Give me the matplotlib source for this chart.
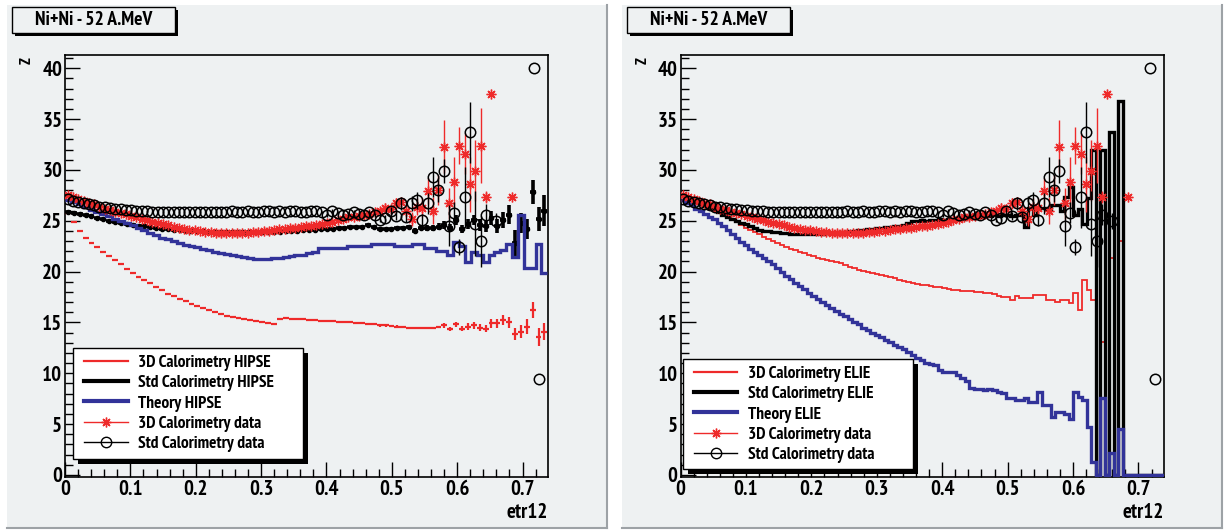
import numpy as np
import matplotlib
matplotlib.use("Agg")
import matplotlib.pyplot as plt
from matplotlib import font_manager
from matplotlib.font_manager import FontProperties
from matplotlib.lines import Line2D
from matplotlib.patches import Rectangle

# ROOT draws a narrow-looking Helvetica bold; take a narrow bold face if one is installed
files = [f.fname for f in font_manager.fontManager.ttflist]
narrow_bold = [f for f in files if "narrow" in f.lower() and "bold" in f.lower()
               and "italic" not in f.lower()]
if narrow_bold:
    FP = FontProperties(fname=narrow_bold[0])
    FS_TICK, FS_TITLE, FS_LEG, FS_Z, LEG_SP = 15, 14, 12.5, 11, 0.24
else:
    FP = FontProperties(family="Liberation Sans", weight="bold")
    FS_TICK, FS_TITLE, FS_LEG, FS_Z, LEG_SP = 13, 11.5, 10.5, 10, 0.45


def font(size):
    fp = FP.copy()
    fp.set_size(size)
    return fp


# ---------------- data (Z vs etr12) ----------------
W_HIPSE = 0.009   # bin width, HIPSE histograms
W_ELIE = 0.0069   # bin width, ELIE histograms
W_DATA = 0.0081   # bin width, measured points

hipse_3d = [25.8, 24.9, 24.0, 23.3, 22.8, 22.4, 21.9, 21.5, 21.1, 20.7,
            20.3, 19.9, 19.5, 19.2, 18.9, 18.5, 18.2, 17.8, 17.6, 17.3,
            17.1, 16.8, 16.6, 16.4, 16.2, 16.0, 15.8, 15.65, 15.5, 15.4,
            15.3, 15.2, 15.1, 15.0, 14.9, 14.85, 15.3, 15.4, 15.35, 15.3,
            15.3, 15.25, 15.2, 15.15, 15.1, 15.1, 15.05, 15.0, 15.0, 14.95,
            14.9, 14.85, 14.8, 14.7, 14.7, 14.65, 14.6, 14.55, 14.5, 14.5,
            14.45, 14.45, 14.5, 14.55,
            14.7, 14.4, 14.8, 14.4, 14.6, 14.7, 14.5, 14.4, 14.9, 14.9,
            15.2, 15.0, 13.9, 14.1, 14.6, 16.2, 13.6, 14.1]
hipse_3d_err = [0.05, 0.05, 0.05, 0.05, 0.05, 0.05, 0.05, 0.05, 0.05, 0.05,
                0.05, 0.05, 0.05, 0.05, 0.05, 0.05, 0.05, 0.05, 0.05, 0.05,
                0.05, 0.05, 0.05, 0.05, 0.05, 0.05, 0.05, 0.05, 0.05, 0.05,
                0.05, 0.05, 0.05, 0.05, 0.05, 0.05, 0.05, 0.05, 0.05, 0.05,
                0.05, 0.05, 0.05, 0.05, 0.05, 0.05, 0.05, 0.05, 0.05, 0.05,
                0.1, 0.1, 0.1, 0.1, 0.1, 0.1, 0.1, 0.1, 0.1, 0.1,
                0.1, 0.1, 0.1, 0.1,
                0.2, 0.2, 0.25, 0.25, 0.3, 0.3, 0.35, 0.35, 0.4, 0.4,
                0.5, 0.5, 0.6, 0.6, 0.7, 0.8, 0.9, 0.8]
hipse_std = [25.9, 25.8, 25.7, 25.6, 25.45, 25.3, 25.2, 25.0, 24.9, 24.8,
             24.7, 24.6, 24.5, 24.45, 24.35, 24.3, 24.2, 24.15, 24.1, 24.05,
             24.0, 24.0, 23.95, 23.95, 23.9, 23.9, 23.9, 23.9, 23.9, 23.9,
             23.9, 23.9, 23.9, 23.9, 23.9, 23.9, 23.9, 23.95, 24.0, 24.0,
             24.05, 24.1, 24.1, 24.15, 24.2, 24.2, 24.3, 24.3, 24.35, 24.4,
             24.4, 24.6, 24.4, 24.2, 24.2, 24.2, 24.25, 24.3, 24.4, 24.0,
             24.3, 24.3, 24.3, 24.4,
             24.6, 24.3, 25.1, 24.2, 24.7, 25.1, 24.6, 24.5, 25.3, 24.5,
             25.1, 25.6, 22.8, 24.8, 24.2, 27.8, 25.2, 26.0]
hipse_std_err = [0.05, 0.05, 0.05, 0.05, 0.05, 0.05, 0.05, 0.05, 0.05, 0.05,
                 0.05, 0.05, 0.05, 0.05, 0.05, 0.05, 0.05, 0.05, 0.05, 0.05,
                 0.05, 0.05, 0.05, 0.05, 0.05, 0.05, 0.05, 0.05, 0.05, 0.05,
                 0.05, 0.05, 0.05, 0.05, 0.05, 0.05, 0.05, 0.05, 0.05, 0.05,
                 0.05, 0.05, 0.05, 0.05, 0.05, 0.05, 0.05, 0.05, 0.05, 0.05,
                 0.1, 0.1, 0.1, 0.1, 0.1, 0.1, 0.15, 0.2, 0.2, 0.25,
                 0.25, 0.3, 0.3, 0.35,
                 0.4, 0.4, 0.5, 0.4, 0.5, 0.5, 0.6, 0.6, 0.7, 0.7,
                 0.8, 0.9, 1.3, 1.0, 1.0, 1.2, 1.2, 1.5]
hipse_theory = [27.0, 26.8, 26.6, 26.4, 26.1, 25.9, 25.7, 25.45, 25.2, 25.0,
                24.8, 24.55, 24.3, 24.1, 23.8, 23.6, 23.35, 23.2, 23.0, 22.8,
                22.65, 22.5, 22.4, 22.25, 22.1, 21.95, 21.8, 21.7, 21.6, 21.5,
                21.4, 21.3, 21.2, 21.2, 21.25, 21.3, 21.35, 21.4, 21.5, 21.6,
                21.6, 21.8, 21.9, 22.3, 22.3, 22.3, 22.3, 22.3, 22.5, 22.5,
                22.5, 22.5, 22.7, 22.7, 22.7, 22.7, 22.5, 22.5, 22.5, 22.7,
                22.7, 22.3, 22.3, 22.0, 22.0, 21.6, 22.9, 22.5, 20.9, 21.9,
                21.6, 20.9, 21.6, 21.9, 22.1, 22.7, 21.4, 25.6, 20.4, 20.4,
                22.7, 19.9]

elie_3d = [26.9, 26.8, 26.7, 26.6, 26.5, 26.35, 26.2, 26.0, 25.8, 25.55,
           25.3, 25.1, 24.85, 24.6, 24.3, 24.1, 23.85, 23.65, 23.45, 23.25,
           23.0, 22.8, 22.6, 22.4, 22.25, 22.1, 21.95, 21.8, 21.65, 21.5,
           21.35, 21.2, 21.1, 21.0, 20.9, 20.8, 20.6, 20.5, 20.35, 20.2,
           20.1, 20.0, 19.9, 19.8, 19.7, 19.6, 19.5, 19.4, 19.2, 19.1,
           19.0, 18.9, 18.8, 18.7, 18.7, 18.6, 18.5, 18.5, 18.4, 18.3,
           18.2, 18.2, 18.1, 18.1, 18.1, 18.0, 18.0, 17.9, 17.9, 17.8,
           17.6, 17.5, 17.5, 17.2, 17.6, 17.4, 17.4, 17.4, 17.7, 17.7,
           17.7, 17.2, 17.2, 17.0, 17.2, 17.2, 16.9, 17.9, 16.2, 19.2,
           18.2, 17.2, 0, 13.1, 0, 21.3, 0, 23.0, 0, 0,
           0, 0, 0, 0, 0, 0, 0]
elie_std = [27.0, 26.9, 26.8, 26.7, 26.6, 26.45, 26.3, 26.2, 25.9, 25.6,
            25.4, 25.2, 25.0, 24.8, 24.65, 24.5, 24.25, 24.1, 24.0, 23.95,
            23.9, 23.85, 23.8, 23.75, 23.7, 23.7, 23.7, 23.7, 23.7, 23.7,
            23.7, 23.7, 23.75, 23.8, 23.8, 23.85, 23.9, 23.95, 24.0, 24.05,
            24.1, 24.15, 24.2, 24.3, 24.3, 24.35, 24.4, 24.45, 24.5, 24.6,
            24.8, 25.0, 25.0, 25.1, 25.0, 25.1, 25.1, 25.2, 25.1, 25.2,
            25.2, 25.3, 25.2, 25.3, 25.3, 25.4, 25.4, 25.5, 25.5, 25.6,
            25.5, 25.6, 25.6, 25.5, 25.6, 25.6, 24.4, 26.3, 25.6, 26.3,
            26.3, 26.2, 26.5, 26.5, 26.0, 27.3, 28.3, 25.6, 26.2, 24.7,
            27.2, 32.0, 0, 32.0, 0, 33.7, 0, 36.8, 0, 0,
            0, 0, 0, 0, 0, 0, 0]
elie_theory = [27.0, 26.7, 26.5, 26.2, 26.0, 25.7, 25.4, 25.15, 24.8, 24.45,
               24.1, 23.7, 23.35, 22.95, 22.6, 22.25, 21.9, 21.6, 21.3, 21.0,
               20.7, 20.4, 20.0, 19.6, 19.3, 18.9, 18.55, 18.25, 17.9, 17.6,
               17.3, 17.0, 16.7, 16.4, 16.1, 15.85, 15.6, 15.3, 15.05, 14.8,
               14.5, 14.25, 14.0, 13.8, 13.55, 13.3, 13.05, 12.8, 12.6, 12.35,
               12.1, 11.8, 11.55, 11.3, 11.0, 10.9, 10.8, 10.3, 10.1, 10.1,
               10.1, 9.8, 9.5, 9.2, 8.6, 8.5, 8.5, 8.4, 8.5, 8.4,
               8.2, 8.1, 7.6, 7.6, 7.4, 7.4, 7.6, 7.2, 7.2, 8.2,
               6.9, 6.9, 5.7, 6.2, 6.2, 6.0, 5.5, 8.2, 7.7, 7.4,
               4.7, 1.3, 0, 7.6, 0, 2.2, 0, 4.5, 0, 0,
               0, 0, 0, 0, 0, 0, 0]

nan = np.nan
data_3d = [27.5, 27.3, 27.1, 26.9, 26.7, 26.6, 26.4, 26.2, 26.1, 25.9,
           25.8, 25.7, 25.5, 25.4, 25.2, 25.1, 24.9, 24.8, 24.7, 24.6,
           24.4, 24.3, 24.2, 24.1, 24.1, 24.0, 23.9, 23.9, 23.8, 23.8,
           23.8, 23.8, 23.8, 23.8, 23.8, 23.9, 23.9, 24.0, 24.0, 24.1,
           24.2, 24.2, 24.3, 24.3, 24.4, 24.5, 24.5, 24.6, 24.7, 24.8,
           24.9, 25.1, 25.2, 25.4, 25.4, 25.5, 25.6, 25.7, 25.9, 26.0,
           26.3, 26.2, 26.7, 26.8, 26.0, 25.2, 26.4, 26.3, 27.9, 26.0,
           28.0, 32.3, 26.7, 28.8, 32.4, 31.6, 28.6, 29.9, 32.4, 27.3,
           37.5, nan, nan, nan, 27.3, nan, nan, nan, nan, nan, nan]
data_3d_err = [0.15, 0.15, 0.15, 0.15, 0.15, 0.15, 0.15, 0.15, 0.15, 0.15,
               0.15, 0.15, 0.15, 0.15, 0.15, 0.15, 0.15, 0.15, 0.15, 0.15,
               0.15, 0.15, 0.15, 0.15, 0.15, 0.15, 0.15, 0.15, 0.15, 0.15,
               0.15, 0.15, 0.15, 0.15, 0.15, 0.15, 0.15, 0.15, 0.15, 0.15,
               0.15, 0.15, 0.15, 0.15, 0.15, 0.15, 0.15, 0.15, 0.15, 0.15,
               0.2, 0.2, 0.2, 0.25, 0.25, 0.25, 0.3, 0.3, 0.3, 0.35,
               0.4, 0.4, 0.5, 0.5, 0.6, 0.7, 0.8, 0.9, 1.3, 1.3,
               1.5, 2.6, 1.5, 2.5, 1.8, 2.0, 2.7, 3.0, 3.7, 0.6,
               0, nan, nan, nan, 0, nan, nan, nan, nan, nan, nan]
data_std = [27.1, 26.9, 26.8, 26.7, 26.6, 26.5, 26.4, 26.35, 26.3, 26.2,
            26.2, 26.1, 26.1, 26.0, 26.0, 26.0, 25.9, 25.9, 25.9, 25.9,
            25.9, 25.9, 25.9, 25.9, 25.9, 25.9, 25.9, 25.9, 25.9, 25.9,
            25.9, 26.0, 25.9, 25.9, 26.0, 25.9, 25.9, 26.0, 26.0, 25.9,
            26.0, 25.9, 26.0, 26.0, 25.9, 25.9, 26.0, 26.0, 25.9, 25.6,
            26.0, 25.8, 25.6, 25.7, 25.9, 25.7, 25.6, 25.9, 25.6, 25.1,
            25.3, 26.0, 25.5, 26.7, 25.4, 26.7, 27.0, 25.1, 26.7, 29.3,
            28.0, 29.9, 24.5, 25.8, 22.4, 27.3, 33.7, 24.7, 23.0, 25.6,
            nan, 25.0, nan, nan, nan, nan, nan, nan, 40.0, 9.4, nan]
data_std_err = [0.1, 0.1, 0.1, 0.1, 0.1, 0.1, 0.1, 0.1, 0.1, 0.1,
                0.1, 0.1, 0.1, 0.1, 0.1, 0.1, 0.1, 0.1, 0.1, 0.1,
                0.1, 0.1, 0.1, 0.1, 0.1, 0.1, 0.1, 0.1, 0.1, 0.1,
                0.1, 0.1, 0.1, 0.1, 0.1, 0.1, 0.1, 0.1, 0.1, 0.1,
                0.1, 0.1, 0.1, 0.1, 0.1, 0.1, 0.1, 0.1, 0.1, 0.2,
                0.2, 0.2, 0.2, 0.2, 0.2, 0.2, 0.2, 0.2, 0.2, 0.2,
                0.3, 0.4, 0.4, 0.6, 0.5, 0.7, 0.8, 0.6, 1.0, 2.0,
                1.2, 1.2, 2.0, 1.0, 0.8, 3.0, 3.0, 3.2, 2.5, 1.0,
                nan, 0.8, nan, nan, nan, nan, nan, nan, 0, 0, nan]

x_ticks = [0, 0.1, 0.2, 0.3, 0.4, 0.5, 0.6, 0.7]
x_ticklabels = ["0", "0.1", "0.2", "0.3", "0.4", "0.5", "0.6", "0.7"]
y_ticks = [0, 5, 10, 15, 20, 25, 30, 35, 40]
y_ticklabels = ["0", "5", "10", "15", "20", "25", "30", "35", "40"]

title = "Ni+Ni - 52 A.MeV"
labels_left = ["3D Calorimetry HIPSE", "Std Calorimetry HIPSE", "Theory HIPSE",
               "3D Calorimetry data", "Std Calorimetry data"]
labels_right = ["3D Calorimetry ELIE", "Std Calorimetry ELIE", "Theory ELIE",
                "3D Calorimetry data", "Std Calorimetry data"]

PAD = "#eef1f2"
RED = "#ee2a2a"
BLUE = "#323399"
W, H = 1227, 530

fig = plt.figure(figsize=(W / 100, H / 100), dpi=100)


def fig_rect(x0, y0, x1, y1):
    # pixel box, origin top-left -> figure fraction
    return (x0 / W, 1 - y1 / H), (x1 - x0) / W, (y1 - y0) / H


def pad_and_title(px0, px1):
    xy, w, h = fig_rect(px0, 5, px1, 528)
    fig.add_artist(Rectangle(xy, w, h, transform=fig.transFigure, fc=PAD, ec="none", zorder=0))
    fig.add_artist(Line2D([px1 / W, px1 / W], [2 / H, 525 / H], transform=fig.transFigure,
                          color="#9da2a6", lw=1.5, zorder=1))
    fig.add_artist(Line2D([px0 / W, px1 / W], [2 / H, 2 / H], transform=fig.transFigure,
                          color="#9da2a6", lw=1.5, zorder=1))
    # title box with shadow
    tx0 = px0 + 5
    xy, w, h = fig_rect(tx0 + 3, 10, tx0 + 166, 36)
    fig.add_artist(Rectangle(xy, w, h, transform=fig.transFigure, fc="k", ec="none", zorder=2))
    xy, w, h = fig_rect(tx0, 7, tx0 + 163, 33)
    fig.add_artist(Rectangle(xy, w, h, transform=fig.transFigure, fc=PAD, ec="k", lw=1, zorder=3))
    fig.text(xy[0] + w / 2, xy[1] + h / 2, title, ha="center", va="center",
             fontproperties=font(FS_TITLE), zorder=4)


def style_axes(ax):
    ax.set_facecolor(PAD)
    ax.set_xlim(0, 0.739)
    ax.set_ylim(-0.2, 41.3)
    ax.set_xticks(x_ticks)
    ax.set_xticklabels(x_ticklabels, fontproperties=font(FS_TICK))
    ax.set_yticks(y_ticks)
    ax.set_yticklabels(y_ticklabels, fontproperties=font(FS_TICK))
    ax.set_xticks(np.arange(0, 0.74, 0.02), minor=True)
    ax.set_yticks(np.arange(0, 42, 1), minor=True)
    ax.tick_params(which="both", direction="in", top=False, right=False, width=1)
    ax.tick_params(which="major", length=11, pad=2)
    ax.tick_params(which="minor", length=5.5)
    for s in ax.spines.values():
        s.set_linewidth(1.2)
    ax.text(1.0, -0.083, "etr12", transform=ax.transAxes, ha="right", va="center",
            fontproperties=font(FS_TICK))
    ax.text(-0.079, 0.995, "Z", transform=ax.transAxes, ha="center", va="top",
            rotation=90, fontproperties=font(FS_Z))


def draw_data(ax):
    cd = (np.arange(len(data_3d)) + 0.5) * W_DATA
    ax.errorbar(cd, data_3d, yerr=data_3d_err, fmt="none", ecolor=RED, elinewidth=1,
                capsize=0, zorder=6)
    ax.plot(cd, data_3d, ls="none", marker=(8, 2, 0), ms=7, mec=RED, mew=1, zorder=6)
    ax.errorbar(cd, data_std, yerr=data_std_err, fmt="o", mfc="none", mec="k", ms=7.5,
                mew=1.1, ecolor="k", elinewidth=1, capsize=0, zorder=7)


def add_legend(ax, labels, box):
    x0, y0, x1, y1 = box
    dx, dy = 5 / 483, 5 / 422
    ax.add_patch(Rectangle((x0 + dx, y0 - dy), x1 - x0, y1 - y0, transform=ax.transAxes,
                           fc="k", ec="none", zorder=9, clip_on=False))
    ax.add_patch(Rectangle((x0, y0), x1 - x0, y1 - y0, transform=ax.transAxes,
                           fc="white", ec="k", lw=1, zorder=10, clip_on=False))
    handles = [Line2D([], [], color=RED, lw=1.6),
               Line2D([], [], color="k", lw=3),
               Line2D([], [], color=BLUE, lw=3),
               Line2D([], [], color=RED, lw=1, marker=(8, 2, 0), ms=7),
               Line2D([], [], color="k", lw=1, marker="o", mfc="none", ms=7.5)]
    leg = ax.legend(handles, labels, loc="upper left", bbox_to_anchor=(x0 + 0.012, y1 - 0.004),
                    frameon=False, prop=font(FS_LEG), handlelength=2.5, handletextpad=0.6,
                    labelspacing=LEG_SP, borderpad=0.3, borderaxespad=0)
    leg.set_zorder(11)


pad_and_title(7, 607)
pad_and_title(622, 1222)

# ---- left: HIPSE ----
axL = fig.add_axes([65 / W, 53 / H, 483 / W, 422 / H])
style_axes(axL)
eh = np.arange(len(hipse_3d) + 1) * W_HIPSE
ch = (eh[:-1] + eh[1:]) / 2
axL.errorbar(ch, hipse_3d, yerr=hipse_3d_err, xerr=W_HIPSE / 2, fmt="none", ecolor=RED,
             elinewidth=1.6, capsize=0, zorder=3)
axL.errorbar(ch, hipse_std, yerr=hipse_std_err, xerr=W_HIPSE / 2, fmt="o", ms=3, color="k",
             elinewidth=2.6, capsize=0, zorder=4)
axL.stairs(hipse_theory, eh, baseline=None, color=BLUE, lw=2.4, zorder=5)
draw_data(axL)
add_legend(axL, labels_left, (0.017, 0.043, 0.493, 0.306))

# ---- right: ELIE ----
axR = fig.add_axes([680.5 / W, 53 / H, 483.5 / W, 422 / H])
style_axes(axR)
ee = np.arange(len(elie_3d) + 1) * W_ELIE
axR.stairs(elie_3d, ee, baseline=None, color=RED, lw=1.3, zorder=3)
axR.stairs(elie_std, ee, baseline=None, color="k", lw=2.4, zorder=4)
axR.stairs(elie_theory, ee, baseline=None, color=BLUE, lw=2.4, zorder=5)
draw_data(axR)
add_legend(axR, labels_right, (0.005, 0.019, 0.481, 0.28))

fig.savefig("out.png", dpi=100, facecolor="white")
